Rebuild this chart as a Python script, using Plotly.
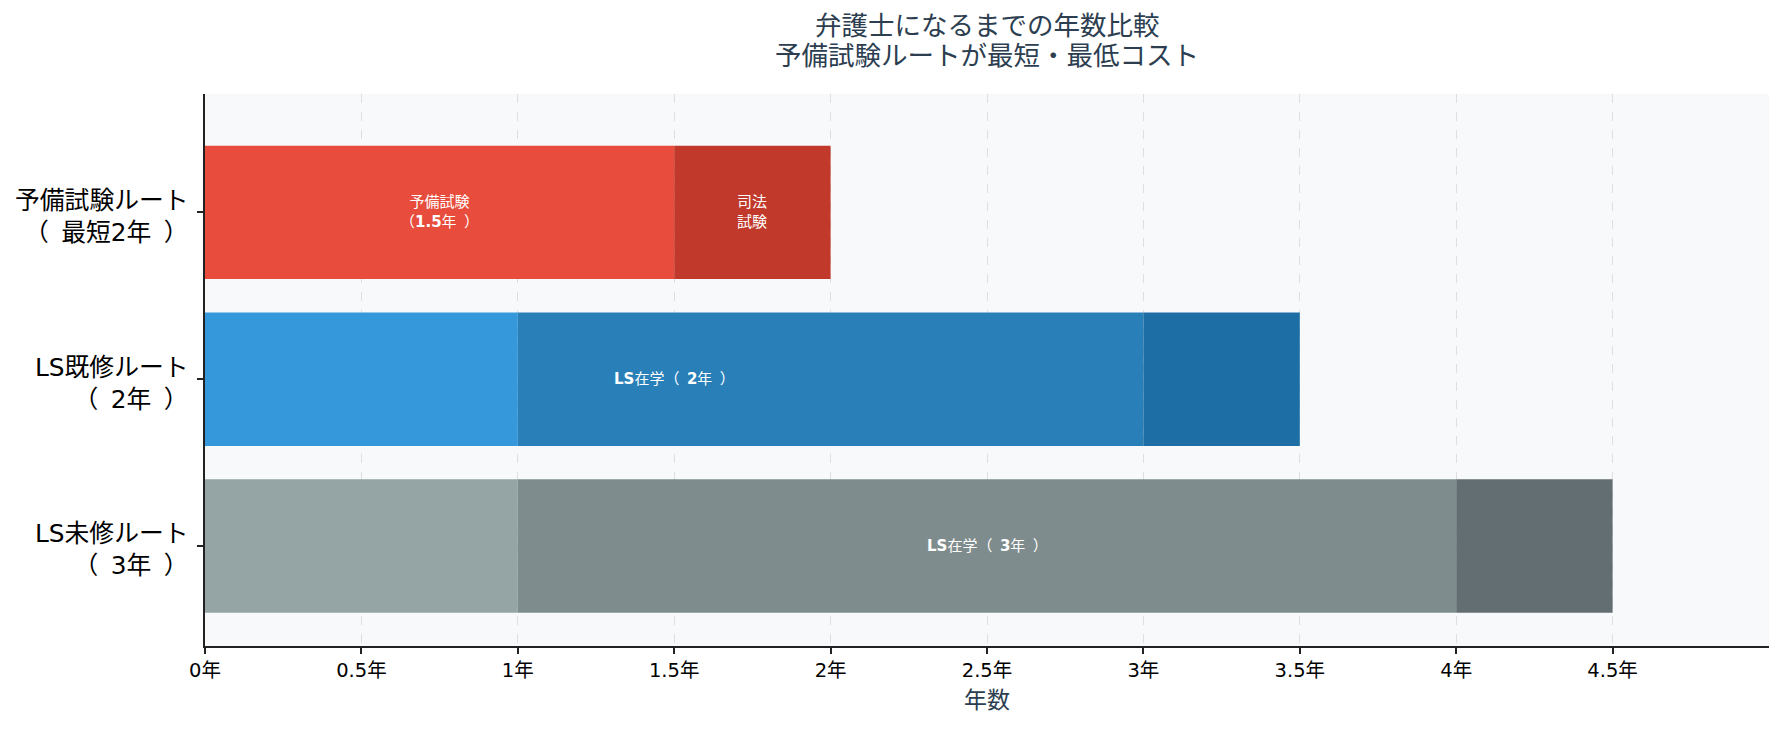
import plotly.graph_objects as go

# ---- data ----
SP = "\u2002"
route_labels = ["予備試験ルート<br>（" + SP + "最短2年" + SP + "）",
                "LS既修ルート<br>（" + SP + "2年" + SP + "）",
                "LS未修ルート<br>（" + SP + "3年" + SP + "）"]
route_pos = [0, 1, 2]

seg_route = [0, 0, 1, 1, 1, 2, 2, 2]
seg_start = [0, 1.5, 0, 1, 3, 0, 1, 4]
seg_years = [1.5, 0.5, 1, 2, 0.5, 1, 3, 0.5]
seg_colors = ["#e74c3c", "#c0392b", "#3498db", "#2980b9", "#1c6ea4",
              "#95a5a6", "#7f8c8d", "#636e72"]
seg_labels = ["予備試験<br>（<b>1.5</b>年" + SP + "）", "司法<br>試験", "",
              "<b>LS</b>在学（" + SP + "<b>2</b>年" + SP + "）", "",
              "", "<b>LS</b>在学（" + SP + "<b>3</b>年" + SP + "）", ""]
label_x = [0.75, 1.75, None, 1.5, None, None, 2.5, None]

x_ticks = [0, 0.5, 1, 1.5, 2, 2.5, 3, 3.5, 4, 4.5]
x_ticktext = ["0年", "0.5年", "1年", "1.5年", "2年", "2.5年", "3年", "3.5年", "4年", "4.5年"]

title_lines = ["弁護士になるまでの年数比較", "予備試験ルートが最短・最低コスト"]
FONT = "DejaVu Sans, Noto Sans CJK JP, sans-serif"

W, H = 1785, 730
ML, MR, MT, MB = 205, 16, 94, 84
PH = H - MT - MB

fig = go.Figure()
for i in range(len(seg_route)):
    fig.add_trace(go.Bar(
        orientation="h",
        y=[route_pos[seg_route[i]]],
        x=[seg_years[i]],
        base=[seg_start[i]],
        width=0.8,
        marker=dict(color=seg_colors[i], line=dict(width=0)),
        showlegend=False,
        hoverinfo="skip",
    ))

for i in range(len(seg_route)):
    if seg_labels[i]:
        fig.add_annotation(
            x=label_x[i], y=route_pos[seg_route[i]],
            xref="x", yref="y",
            text=seg_labels[i], showarrow=False,
            font=dict(family=FONT, size=15, color="white"),
            align="center",
        )

# category labels as annotations (right-aligned, slightly below tick like the reference)
for lab, pos in zip(route_labels, route_pos):
    fig.add_annotation(
        x=0, xref="paper", xanchor="right", xshift=-14,
        y=pos, yref="y", yanchor="middle", yshift=-4,
        text=lab, showarrow=False, align="right",
        font=dict(family=FONT, size=24.8, color="black"),
    )

# title lines (two annotations for precise line spacing)
for line, py in zip(title_lines, [25, 56]):
    fig.add_annotation(
        x=0.5, xref="paper", xanchor="center",
        y=(H - MB - py) / PH, yref="paper", yanchor="middle",
        text=line, showarrow=False,
        font=dict(family=FONT, size=26.5, color="#2c3e50"),
    )

fig.update_layout(
    width=W, height=H,
    margin=dict(l=ML, r=MR, t=MT, b=MB),
    paper_bgcolor="white",
    plot_bgcolor="#f8f9fa",
    barmode="overlay",
    font=dict(family=FONT, color="black"),
)

fig.update_xaxes(
    range=[0, 5],
    tickvals=x_ticks, ticktext=x_ticktext,
    tickfont=dict(family=FONT, size=19.5, color="black"),
    showgrid=True, gridcolor="rgba(176,176,176,0.35)", griddash="dash", gridwidth=1,
    layer="above traces",
    zeroline=False,
    showline=True, linecolor="#222222", linewidth=2,
    ticks="outside", ticklen=6, tickwidth=1.5, tickcolor="#222222",
    title=dict(text="年数", font=dict(family=FONT, size=23, color="#2c3e50"), standoff=10),
)
fig.update_yaxes(
    range=[2.6, -0.71],
    tickvals=route_pos, showticklabels=False,
    showgrid=False, zeroline=False,
    showline=True, linecolor="#222222", linewidth=2,
    ticks="outside", ticklen=6, tickwidth=1.5, tickcolor="#222222",
)

fig.write_html("out.html")
